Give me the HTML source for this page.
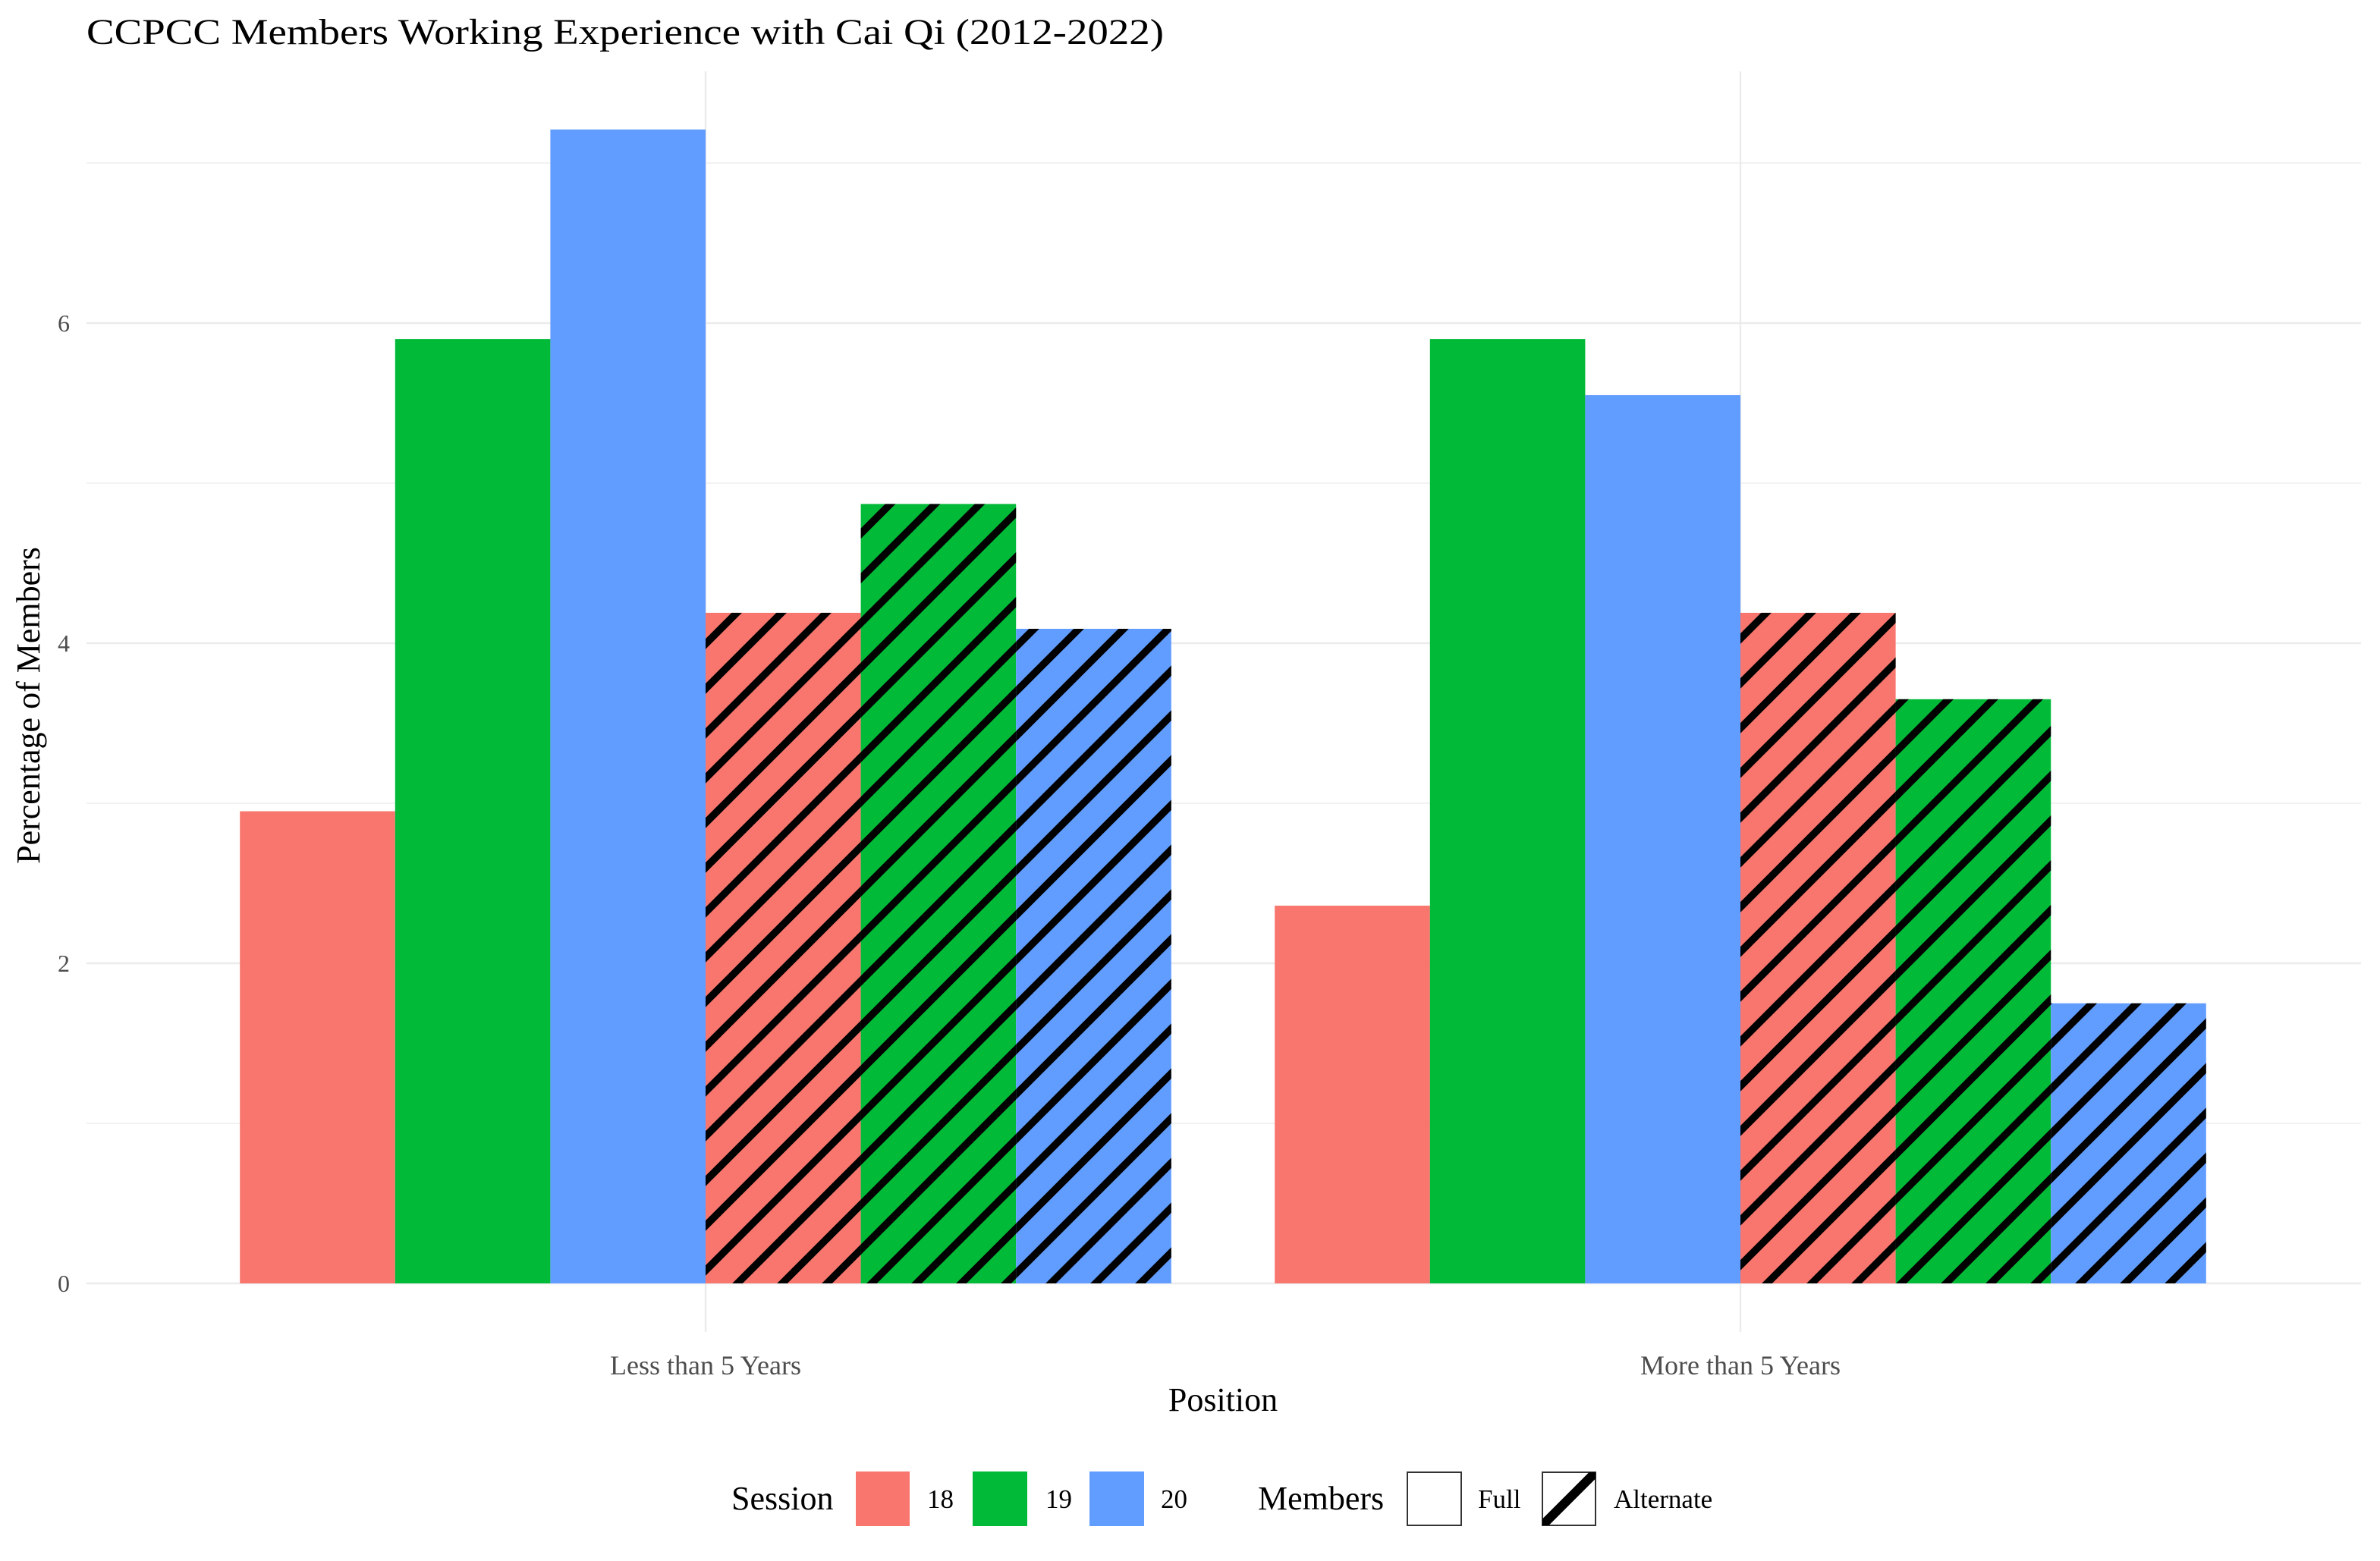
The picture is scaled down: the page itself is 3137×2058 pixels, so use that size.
<!DOCTYPE html>
<html><head><meta charset="utf-8"><style>
html,body{margin:0;padding:0;background:#fff}
svg{display:block;font-family:"Liberation Serif",serif}
</style></head><body>
<svg id="chart" width="3137" height="2058" viewBox="0 0 3137 2058" xmlns="http://www.w3.org/2000/svg">
<defs>
<pattern id="hatch" patternUnits="userSpaceOnUse" x="0" y="0" width="59" height="59">
<path d="M-59,0 L0,-59 M-80,89 L89,-80 M-30,98 L98,-30 M0,127 L127,0" stroke="#000" stroke-width="9.5" fill="none"/>
<path d="M-20,29 L29,-20 M-20,88 L88,-20 M39,88 L88,39" stroke="#000" stroke-width="9.5" fill="none"/>
</pattern>
</defs>
<rect width="3137" height="2058" fill="#fff"/>
<g id="grid"></g>
<g id="bars"></g>
<g id="axes"></g>
<text x="114" y="58" font-size="48" textLength="1420" lengthAdjust="spacingAndGlyphs">CCPCC Members Working Experience with Cai Qi (2012-2022)</text>
<text x="1612" y="1860" font-size="44" text-anchor="middle">Position</text>
<text transform="translate(52,930) rotate(-90)" font-size="44" text-anchor="middle">Percentage of Members</text>
<g>
<text x="964" y="1990" font-size="44">Session</text>
<rect x="1128" y="1940" width="71" height="72" fill="#F8766D"/>
<text x="1222" y="1988" font-size="35">18</text>
<rect x="1282" y="1940" width="72" height="72" fill="#00BA38"/>
<text x="1378" y="1988" font-size="35">19</text>
<rect x="1436" y="1940" width="72" height="72" fill="#619CFF"/>
<text x="1530" y="1988" font-size="35">20</text>
<text x="1658" y="1990" font-size="44">Members</text>
<rect x="1855" y="1941" width="71" height="70" fill="#fff" stroke="#333" stroke-width="2"/>
<text x="1948" y="1988" font-size="35">Full</text>
<g>
<rect x="2033" y="1941" width="70" height="70" fill="#fff" stroke="#333" stroke-width="2"/>
<clipPath id="kc"><rect x="2033" y="1941" width="70" height="70"/></clipPath>
<path d="M2028,2016 L2108,1936" stroke="#000" stroke-width="12" clip-path="url(#kc)"/>
</g>
<text x="2127" y="1988" font-size="35">Alternate</text>
</g>
</svg>
<script>
const categories = ["Less than 5 Years", "More than 5 Years"];
const sessions = ["18", "19", "20"];
const fullValues = [[2.95, 5.9, 7.21], [2.36, 5.9, 5.55]];
const alternateValues = [[4.19, 4.87, 4.09], [4.19, 3.65, 1.75]];
const yTicks = [0, 2, 4, 6];
const yMinor = [1, 3, 5, 7];
const colors = {"18": "#F8766D", "19": "#00BA38", "20": "#619CFF"};

const NS = "http://www.w3.org/2000/svg";
const px0 = 114, px1 = 3112, py0 = 94, py1 = 1756;
const y0 = 1692, unit = 211;
const catX = i => 930 + i * 1364;
const yScale = v => y0 - v * unit;
const catStep = 1364, barW = catStep * 0.9 / 6;

function mk(tag, attrs, parent) {
  const el = document.createElementNS(NS, tag);
  for (const k in attrs) el.setAttribute(k, attrs[k]);
  parent.appendChild(el);
  return el;
}
const grid = document.getElementById('grid');
const bars = document.getElementById('bars');
const axes = document.getElementById('axes');

yMinor.forEach(v => {
  const l = mk('line', {x1: px0, x2: px1, y1: yScale(v), y2: yScale(v), stroke: '#ebebeb', 'stroke-width': 1.2}, grid);
  
  
});
yTicks.forEach(v => {
  const l = mk('line', {x1: px0, x2: px1, y1: yScale(v), y2: yScale(v), stroke: '#ebebeb', 'stroke-width': 2.4}, grid);
  
  
  const t = mk('text', {x: 92, y: yScale(v) + 11, 'font-size': 32, 'text-anchor': 'end', fill: '#4d4d4d'}, axes);
  t.textContent = v;
  
  
});
categories.forEach((c, i) => {
  const l = mk('line', {x1: catX(i), x2: catX(i), y1: py0, y2: py1, stroke: '#ebebeb', 'stroke-width': 2.4}, grid);
  
  
  const t = mk('text', {x: catX(i), y: 1812, 'font-size': 36, 'text-anchor': 'middle', fill: '#4d4d4d'}, axes);
  t.textContent = c;
  
  

  const start = catX(i) - catStep * 0.45;
  sessions.forEach((s, j) => {
    const v = fullValues[i][j];
    const r = mk('rect', {x: start + j * barW, y: yScale(v), width: barW, height: y0 - yScale(v), fill: colors[s]}, bars);
    
    
  });
  sessions.forEach((s, j) => {
    const v = alternateValues[i][j];
    const x = start + (3 + j) * barW;
    const r = mk('rect', {x: x, y: yScale(v), width: barW, height: y0 - yScale(v), fill: colors[s]}, bars);
    
    
    const h = mk('rect', {x: x, y: yScale(v), width: barW, height: y0 - yScale(v), fill: 'url(#hatch)'}, bars);
    
    
  });
});
</script>
</body></html>
